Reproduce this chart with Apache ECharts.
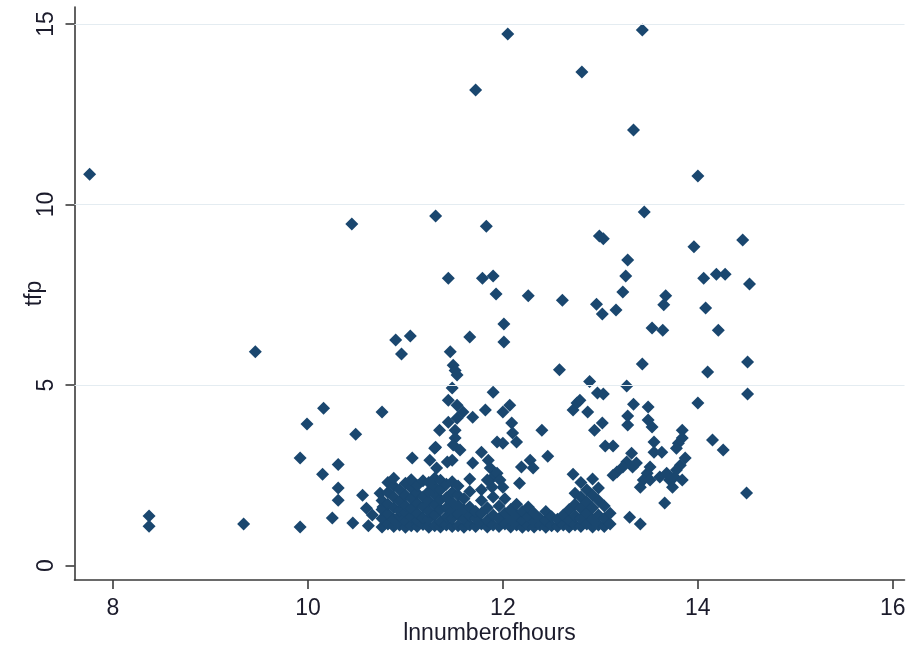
<!DOCTYPE html>
<html>
<head>
<meta charset="utf-8">
<script src="https://cdn.jsdelivr.net/npm/echarts@6/dist/echarts.min.js"></script>
<style>
html,body{margin:0;padding:0;background:#fff;}
#chart{width:913px;height:650px;}
</style>
</head>
<body>
<div id="chart"></div>
<script>
// Axis ticks
const hoursTicks = [8, 10, 12, 14, 16];
const tfpTicks = [0, 5, 10, 15];
const tfpGrid = [5, 10, 15];

// [lnnumberofhours, tfp] points
const highPoints = [
  [7.76,10.84],[9.46,5.92],[10.45,9.46],[11.31,9.68],[11.44,7.96],[10.90,6.25],[11.05,6.36],[10.96,5.86],
  [11.46,5.92],[11.49,5.55],[11.51,5.40],[11.53,5.28],[12.05,14.72],[13.43,14.83],[11.72,13.17],[12.81,13.67],
  [13.34,12.06],[14.00,10.79],[11.83,9.40],[13.45,9.79],[12.99,9.13],[13.03,9.05],[13.96,8.83],[14.46,9.02],
  [13.28,8.46],[13.26,8.02],[14.06,7.96],[14.19,8.07],[14.28,8.07],[11.79,7.96],[11.90,8.02],[14.53,7.80],
  [11.93,7.52],[12.26,7.47],[12.61,7.35],[13.23,7.58],[13.67,7.47],[13.65,7.22],[12.96,7.24],[13.02,6.97],
  [13.16,7.08],[14.08,7.13],[13.53,6.58],[13.64,6.52],[14.21,6.52],[12.01,6.69],[12.01,6.19],[11.66,6.33],
  [14.51,5.64],[13.43,5.58],[14.10,5.36],[12.58,5.42],[12.89,5.10]
];

const midPoints = [
  [11.48,4.92],[11.44,4.58],[10.16,4.36],[9.99,3.92],[10.76,4.25],[10.49,3.64],[11.35,3.75],[11.31,3.28],
  [10.31,2.80],[10.15,2.53],[10.31,2.15],[10.31,1.81],[9.92,2.98],
  [11.07,2.98],[11.25,2.92],[11.32,2.70],[11.43,2.87],[11.48,2.92],[11.30,3.25],[11.53,4.44],[11.59,4.25],
  [11.69,4.11],[11.44,3.97],[11.53,4.08],[11.51,3.75],[11.51,3.53],[11.49,3.34],[11.56,3.20],[11.82,4.31],
  [11.90,4.80],[12.00,4.25],[12.07,4.44],[12.09,3.95],[12.10,3.67],[11.94,3.42],[12.00,3.39],[12.14,3.42],
  [11.69,2.84],[11.78,3.14],[11.85,2.92],[11.87,2.70],[11.90,2.45],[11.94,2.56],[11.97,2.37],[12.00,2.17],
  [11.84,2.37],[11.89,2.17],[12.17,2.28],[12.19,2.73],[12.28,2.92],[12.31,2.70],[12.40,3.75],[12.46,3.03],
  [12.72,2.53],[12.97,4.78],[12.76,4.50],[12.79,4.58],[12.72,4.31],[12.87,4.25],[12.94,3.75],
  [13.27,4.97],[13.03,4.75],[14.51,4.75],[14.00,4.50],[13.34,4.47],[13.49,4.39],[13.49,4.03],[13.53,3.84],
  [13.28,4.14],[13.28,3.89],[13.02,3.95],[13.84,3.75],[13.84,3.53],[13.80,3.39],[13.78,3.25],[14.15,3.48],
  [14.26,3.20],[13.05,3.31],[13.13,3.31],[13.55,3.42],[13.55,3.14],[13.63,3.14],[13.32,3.11],[13.27,2.87],
  [13.23,2.73],[13.17,2.59],[13.13,2.50],[13.33,2.73],[13.37,2.84],[13.87,2.98],[13.82,2.78],[13.78,2.65],
  [13.76,2.45],[13.51,2.73],[13.48,2.56],[13.44,2.37],[13.41,2.17],[13.61,2.45],[13.68,2.56],[13.71,2.37],
  [13.74,2.17],[13.84,2.37],[13.51,2.37],[13.66,1.73],[14.50,2.01]
];

const lowPoints = [
  [8.37,1.37],[8.37,1.09],[9.34,1.15],[9.92,1.07],[10.25,1.32],[10.46,1.18],[10.56,1.95],[10.60,1.59],
  [10.62,1.10],[10.66,1.40],[10.74,2.00],[10.77,1.62],[10.81,1.26],[13.30,1.34],[13.41,1.15]
];

const clusterPoints = [
  [10.76,1.07],[10.76,1.30],[10.76,1.55],[10.76,1.80],
  [10.82,1.15],[10.82,1.42],[10.82,1.70],[10.82,2.02],[10.82,2.30],
  [10.88,1.08],[10.88,1.28],[10.88,1.60],[10.88,1.90],[10.88,2.20],[10.88,2.42],
  [10.94,1.12],[10.94,1.38],[10.94,1.52],[10.94,1.78],[10.94,2.10],
  [11.00,1.06],[11.00,1.22],[11.00,1.47],[11.00,1.66],[11.00,1.95],[11.00,2.28],
  [11.06,1.10],[11.06,1.35],[11.06,1.58],[11.06,1.86],[11.06,2.15],[11.06,2.38],
  [11.12,1.08],[11.12,1.25],[11.12,1.44],[11.12,1.72],[11.12,2.00],[11.12,2.22],
  [11.18,1.14],[11.18,1.32],[11.18,1.62],[11.18,1.90],[11.18,2.35],
  [11.24,1.06],[11.24,1.28],[11.24,1.50],[11.24,1.78],[11.24,2.05],[11.24,2.30],
  [11.30,1.10],[11.30,1.40],[11.30,1.68],[11.30,1.96],[11.30,2.18],[11.30,2.42],
  [11.36,1.07],[11.36,1.22],[11.36,1.55],[11.36,1.82],[11.36,2.10],[11.36,2.36],
  [11.42,1.12],[11.42,1.35],[11.42,1.60],[11.42,1.88],[11.42,2.25],
  [11.48,1.08],[11.48,1.30],[11.48,1.52],[11.48,1.75],[11.48,2.02],[11.48,2.32],
  [11.54,1.10],[11.54,1.42],[11.54,1.66],[11.54,1.95],[11.54,2.20],
  [11.60,1.06],[11.60,1.28],[11.60,1.55],[11.60,1.85],
  [11.66,1.12],[11.66,1.38],[11.66,1.62],[11.66,2.05],[11.66,2.40],
  [11.72,1.08],[11.72,1.30],[11.72,1.50],
  [11.78,1.15],[11.78,1.45],[11.78,1.80],[11.78,2.10],
  [11.84,1.07],[11.84,1.25],[11.84,1.60],
  [11.90,1.12],[11.90,1.40],[11.90,1.90],
  [11.96,1.08],[11.96,1.30],[11.96,1.65],
  [12.02,1.15],[12.02,1.45],[12.02,1.85],
  [12.08,1.07],[12.08,1.28],[12.08,1.55],
  [12.14,1.12],[12.14,1.40],[12.14,1.70],
  [12.20,1.06],[12.20,1.25],[12.20,1.50],
  [12.26,1.10],[12.26,1.35],[12.26,1.62],
  [12.32,1.07],[12.32,1.22],[12.32,1.45],
  [12.38,1.12],[12.38,1.30],
  [12.44,1.06],[12.44,1.25],[12.44,1.50],
  [12.50,1.10],[12.50,1.35],
  [12.56,1.08],[12.56,1.28],
  [12.62,1.12],[12.62,1.40],
  [12.68,1.07],[12.68,1.25],[12.68,1.55],
  [12.74,1.12],[12.74,1.38],[12.74,1.70],[12.74,2.00],
  [12.80,1.08],[12.80,1.30],[12.80,1.58],[12.80,1.90],[12.80,2.30],
  [12.86,1.15],[12.86,1.45],[12.86,1.75],[12.86,2.10],
  [12.92,1.07],[12.92,1.28],[12.92,1.60],[12.92,1.95],[12.92,2.40],
  [12.98,1.12],[12.98,1.40],[12.98,1.80],[12.98,2.15],
  [13.04,1.08],[13.04,1.30],[13.04,1.65],
  [13.10,1.15],[13.10,1.45]
];

const allPoints = highPoints.concat(midPoints, lowPoints, clusterPoints);

const chart = echarts.init(document.getElementById('chart'), null, {renderer: 'canvas'});
const textColor = '#1b1b2b';
const axisColor = '#3a3a3a';
const fontFamily = '"Liberation Sans", Arial, sans-serif';

chart.setOption({
  backgroundColor: '#ffffff',
  animation: false,
  grid: {left: 74.5, right: 8.5, top: 7, bottom: 70, containLabel: false, outerBoundsMode: 'none'},
  xAxis: {
    type: 'value',
    min: 7.605, max: 16.12,
    name: 'lnnumberofhours',
    nameLocation: 'middle',
    nameGap: 42,
    nameMoveOverlap: false,
    nameTextStyle: {fontFamily, fontSize: 23, color: textColor},
    axisLine: {show: true, onZero: false, lineStyle: {color: axisColor, width: 1.6}},
    axisTick: {show: true, length: 9, lineStyle: {color: axisColor, width: 1.6}, customValues: hoursTicks},
    axisLabel: {fontFamily, fontSize: 23, color: textColor, margin: 17, customValues: hoursTicks},
    splitLine: {show: false}
  },
  yAxis: {
    type: 'value',
    min: -0.40, max: 15.47,
    name: 'tfp',
    nameLocation: 'middle',
    nameGap: 28,
    nameRotate: 90,
    nameMoveOverlap: false,
    nameTextStyle: {fontFamily, fontSize: 23, color: textColor},
    axisLine: {show: true, onZero: false, lineStyle: {color: axisColor, width: 1.6}},
    axisTick: {show: true, length: 9, lineStyle: {color: axisColor, width: 1.6}, customValues: tfpTicks},
    axisLabel: {fontFamily, fontSize: 23, color: textColor, margin: 16, rotate: 90, customValues: tfpTicks},
    splitLine: {show: false}
  },
  series: [
    {
      type: 'scatter',
      data: [],
      z: 1,
      markLine: {
        silent: true,
        symbol: 'none',
        label: {show: false},
        lineStyle: {color: '#e4ecf1', width: 1.2, type: 'solid'},
        data: tfpGrid.map(v => ({yAxis: v}))
      }
    },
    {
      type: 'scatter',
      z: 3,
      symbol: 'diamond',
      symbolSize: 13,
      itemStyle: {color: '#1a476f', opacity: 1},
      data: allPoints
    }
  ]
});
</script>
</body>
</html>
